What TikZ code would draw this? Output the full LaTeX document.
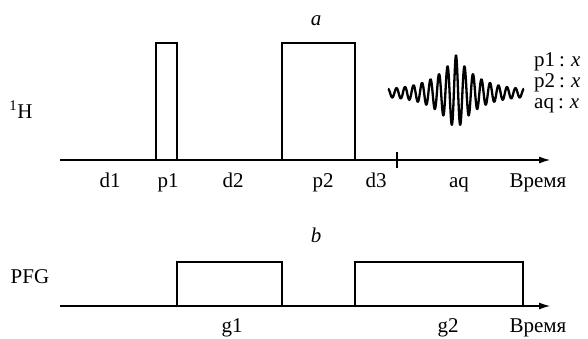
\documentclass[tikz,border=0pt]{standalone}
\usepackage{fontspec}
\setmainfont{Liberation Serif}
\usetikzlibrary{arrows.meta}

\begin{document}
\begin{tikzpicture}[
    x=1pt,y=-1pt,
    >={Latex[length=11pt,width=7pt]},
    pulse/.style={draw,line width=1.7pt},
    axis/.style={->,line width=1.1pt},
    lbl/.style={anchor=base,inner sep=0pt,font=\fontsize{21}{23}\selectfont}]
  \useasboundingbox (0,0) rectangle (588,338);
  % time axes
  \coordinate (hstart) at (60,160);
  \coordinate (hend) at (550,160);
  \coordinate (gstart) at (60,306);
  \coordinate (gend) at (550,306);
  \draw[axis] (hstart) -- (hend);
  \draw[axis] (gstart) -- (gend);
  % pulses
  \draw[pulse] (156,160) rectangle (177,43);
  \draw[pulse] (282,160) rectangle (355,43);
  \draw[pulse] (177,306) rectangle (282,262);
  \draw[pulse] (355,306) rectangle (523,262);
  % acquisition
  \coordinate (tickbot) at (397,168);
  \coordinate (ticktop) at (397,152);
  \draw[line width=1.1pt] (tickbot) -- (ticktop);
  \draw[line width=2.3pt,line join=round]
    plot[domain=-68:68,samples=500]
    ({456+\x},{93-(2.5+35.5*exp(-abs(\x)/22))*cos(\x*42.35)});
  % labels
  \node[lbl] (seqa) at (316,25) {\textit{a}};
  \node[lbl] (seqb) at (316,242) {\textit{b}};
  \node[lbl] (hchan) at (21,118) {\textsuperscript{1}H};
  \node[lbl] (gchan) at (30,283) {PFG};
  \node[lbl] (d1) at (110,187) {d1};
  \node[lbl] (p1) at (168,187) {p1};
  \node[lbl] (d2) at (233,187) {d2};
  \node[lbl] (p2) at (323,187) {p2};
  \node[lbl] (d3) at (376,187) {d3};
  \node[lbl] (aq) at (459,187) {aq};
  \node[lbl] (htime) at (538,187) {Время};
  \node[lbl] (g1) at (232,332) {g1};
  \node[lbl] (g2) at (448,332) {g2};
  \node[lbl] (gtime) at (538,332) {Время};
  \node[lbl,anchor=base west] (ph1) at (534,66) {p1\hspace{4pt}:\hspace{6pt}\textit{x}};
  \node[lbl,anchor=base west] (ph2) at (534,87) {p2\hspace{4pt}:\hspace{6pt}\textit{x}};
  \node[lbl,anchor=base west] (ph3) at (534,108) {aq\hspace{4pt}:\hspace{6pt}\textit{x}};
\end{tikzpicture}
\end{document}
